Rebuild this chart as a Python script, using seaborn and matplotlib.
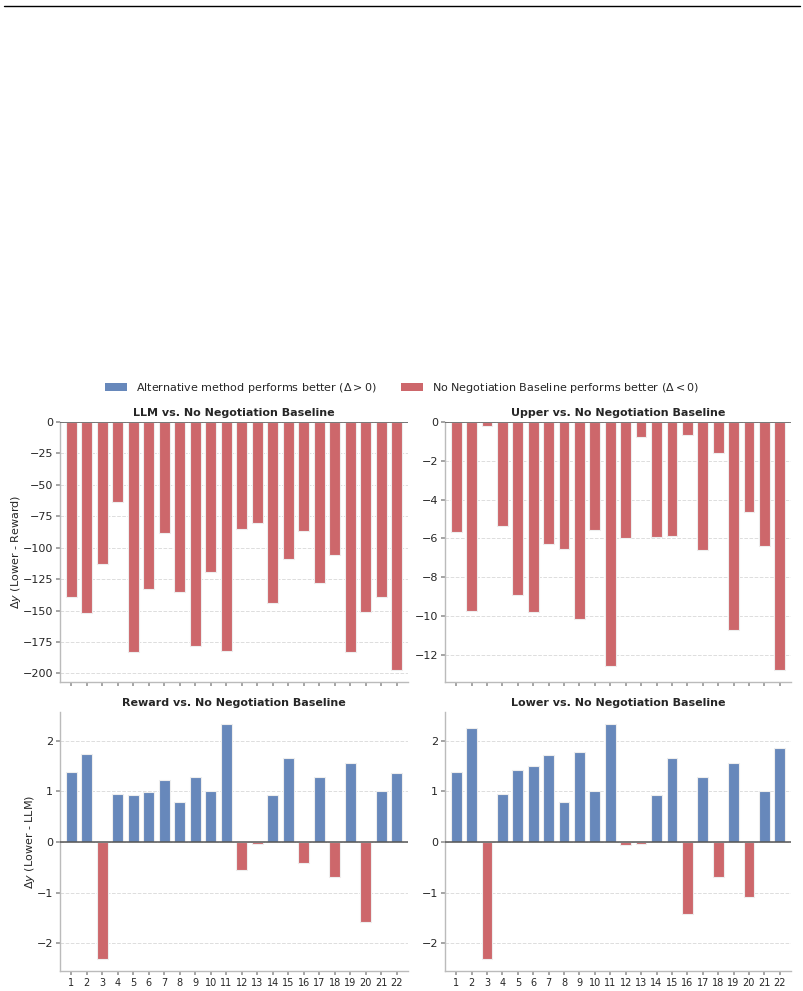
import pandas as pd
import matplotlib.pyplot as plt
import seaborn as sns
from matplotlib.patches import Patch
from matplotlib.lines import Line2D

# --- Data ---
scenarios = [str(i) for i in range(1, 23)]
llm_delta = [-139, -152, -113, -64, -183, -133, -88, -135, -178, -119, -182,
             -85, -80, -144, -109, -87, -128, -106, -183, -151, -139, -197]
upper_delta = [-5.69, -9.76, -0.19, -5.38, -8.93, -9.79, -6.31, -6.52, -10.14, -5.55, -12.59,
               -5.97, -0.78, -5.91, -5.86, -0.67, -6.62, -1.60, -10.72, -4.66, -6.38, -12.76]
reward_delta = [1.38, 1.75, -2.31, 0.94, 0.92, 0.99, 1.22, 0.80, 1.28, 1.00, 2.34,
                -0.55, -0.03, 0.93, 1.67, -0.41, 1.29, -0.70, 1.57, -1.58, 1.01, 1.36]
lower_delta = [1.38, 2.25, -2.31, 0.94, 1.42, 1.50, 1.72, 0.80, 1.78, 1.00, 2.34,
               -0.05, -0.03, 0.93, 1.67, -1.42, 1.29, -0.70, 1.57, -1.08, 1.01, 1.86]

panels = [
    ("LLM vs. No Negotiation Baseline", llm_delta, r"$\Delta y$ (Lower - Reward)"),
    ("Upper vs. No Negotiation Baseline", upper_delta, None),
    ("Reward vs. No Negotiation Baseline", reward_delta, r"$\Delta y$ (Lower - LLM)"),
    ("Lower vs. No Negotiation Baseline", lower_delta, None),
]

# --- Style ---
sns.set_theme(style="ticks")
plt.rcParams['font.family'] = ['DejaVu Sans']
POS, NEG = "#6788BB", "#CD676B"
palette = {"pos": POS, "neg": NEG}

fig = plt.figure(figsize=(8.04, 9.91), dpi=100)

# axes rectangles in figure fractions
rects = [
    (0.0746, 0.3118, 0.4328, 0.2624),
    (0.5535, 0.3118, 0.4303, 0.2624),
    (0.0746, 0.0202, 0.4328, 0.2613),
    (0.5535, 0.0202, 0.4303, 0.2613),
]

for i, ((title, vals, ylabel), rect) in enumerate(zip(panels, rects)):
    ax = fig.add_axes(rect)
    df = pd.DataFrame({"scenario": scenarios, "delta": vals})
    df["sign"] = ["pos" if v > 0 else "neg" for v in vals]
    sns.barplot(data=df, x="scenario", y="delta", hue="sign", palette=palette,
                dodge=False, width=0.7, saturation=1, edgecolor="#eeeeee",
                linewidth=0.8, legend=False, ax=ax)
    ax.axhline(0, color="#555555", linewidth=1.1, zorder=3)
    ax.grid(axis="y", linestyle="--", color="#dddddd", linewidth=0.7)
    ax.set_axisbelow(True)
    ax.set_xlim(-0.73, 21.73)
    if i >= 2:
        ax.set_ylim(-2.55, 2.57)
        ax.set_yticks([-2, -1, 0, 1, 2])
    ax.set_title(title, fontsize=8, fontweight="bold", pad=4)
    ax.set_xlabel("")
    ax.set_ylabel(ylabel if ylabel else "", fontsize=8, labelpad=0)
    ax.tick_params(axis="y", labelsize=8, length=3, color="#999999", pad=2)
    ax.tick_params(axis="x", labelsize=7, length=3, color="#999999", pad=2)
    if i < 2:
        ax.tick_params(axis="x", labelbottom=False)
    sns.despine(ax=ax)
    for s in ("left", "bottom"):
        ax.spines[s].set_color("#bbbbbb")
        ax.spines[s].set_linewidth(1.0)

# legend shared by all panels
handles = [Patch(facecolor=POS, edgecolor="none"),
           Patch(facecolor=NEG, edgecolor="none")]
labels = [r"Alternative method performs better ($\Delta > 0$)",
          r"No Negotiation Baseline performs better ($\Delta < 0$)"]
fig.legend(handles, labels, loc="center", bbox_to_anchor=(0.5, 0.6085), ncol=2,
           frameon=False, fontsize=8, columnspacing=2.2, handlelength=2.0)

# top rule
fig.add_artist(Line2D([0.005, 0.995], [1 - 6 / 991, 1 - 6 / 991], color="black",
                      linewidth=1.0, transform=fig.transFigure))

fig.savefig("out.png", dpi=100)
